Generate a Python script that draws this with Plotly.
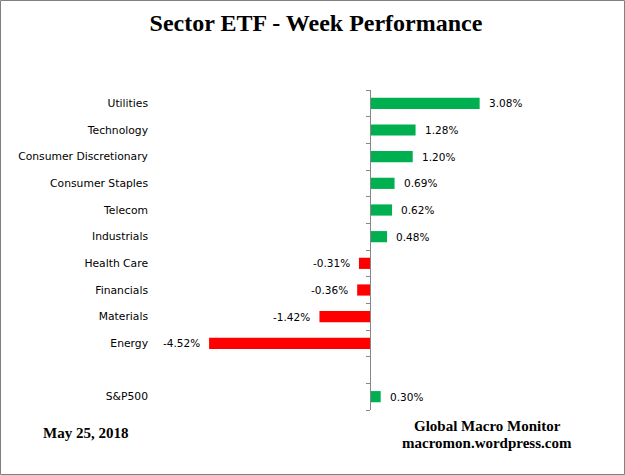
import plotly.graph_objects as go

categories = ["Utilities", "Technology", "Consumer Discretionary", "Consumer Staples",
              "Telecom", "Industrials", "Health Care", "Financials", "Materials",
              "Energy", " ", "S&P500"]
values = [3.08, 1.28, 1.20, 0.69, 0.62, 0.48, -0.31, -0.36, -1.42, -4.52, None, 0.30]
labels = ["3.08%", "1.28%", "1.20%", "0.69%", "0.62%", "0.48%", "-0.31%", "-0.36%",
          "-1.42%", "-4.52%", "", "0.30%"]

W, H = 625, 475
ML, MR, MT, MB = 152, 25, 90, 65
PW, PH = W - ML - MR, H - MT - MB
ZERO_PX = 370
SCALE = 35.6
xmin = (ML - ZERO_PX) / SCALE
xmax = (W - MR - ZERO_PX) / SCALE

GREEN, RED = "#00B050", "#FF0000"
colors = [GREEN if (v is not None and v >= 0) else RED for v in values]

def px_x(px):
    return (px - ML) / PW

def px_y(py):
    return (H - MB - py) / PH

fig = go.Figure()
fig.add_trace(go.Bar(
    x=values, y=categories, orientation="h",
    marker=dict(color=colors, line=dict(width=0)),
    width=0.42, hoverinfo="skip", showlegend=False,
))
fig.add_trace(go.Scatter(x=[], y=[], yaxis="y2", showlegend=False, hoverinfo="skip"))

label_font = dict(family="DejaVu Sans", size=10.5, color="#000000")
cat_font = dict(family="DejaVu Sans", size=10.75, color="#000000")
annotations = []
for c, v, t in zip(categories, values, labels):
    if v is None:
        continue
    annotations.append(dict(
        x=v, y=c, xref="x", yref="y", text=t, showarrow=False,
        xanchor="left" if v >= 0 else "right",
        xshift=7 if v >= 0 else -7, font=label_font,
    ))

serif_b = "Liberation Serif"
annotations += [
    dict(xref="paper", yref="paper", x=px_x(85), y=px_y(433), text="<b>May 25, 2018</b>",
         showarrow=False, xanchor="center", yanchor="middle",
         font=dict(family=serif_b, size=15, color="#000")),
    dict(xref="paper", yref="paper", x=px_x(487), y=px_y(426), text="<b>Global Macro Monitor</b>",
         showarrow=False, xanchor="center", yanchor="middle",
         font=dict(family=serif_b, size=15, color="#000")),
    dict(xref="paper", yref="paper", x=px_x(487), y=px_y(443), text="<b>macromon.wordpress.com</b>",
         showarrow=False, xanchor="center", yanchor="middle",
         font=dict(family=serif_b, size=15, color="#000")),
]

n = len(categories)
fig.update_layout(
    width=W, height=H,
    margin=dict(l=ML, r=MR, t=MT, b=MB),
    paper_bgcolor="white", plot_bgcolor="white",
    title=dict(text="<b>Sector ETF - Week Performance</b>", x=px_x(316), xref="paper",
               xanchor="center", y=1 - 23 / H, yanchor="middle",
               font=dict(family=serif_b, size=24, color="#000")),
    xaxis=dict(range=[xmin, xmax], visible=False, fixedrange=True),
    yaxis=dict(type="category", categoryorder="array", categoryarray=categories,
               range=[n - 0.5, -0.5], showgrid=False, zeroline=False, showline=False,
               ticks="", tickfont=cat_font, ticklabelstandoff=3, fixedrange=True),
    yaxis2=dict(overlaying="y", anchor="free", side="left",
                position=(0 - xmin) / (xmax - xmin),
                range=[n - 0.5, -0.5], tickmode="array",
                tickvals=[i - 0.5 for i in range(n + 1)],
                ticks="outside", ticklen=4, tickcolor="#868686", tickwidth=1,
                showticklabels=False, showline=True, linecolor="#868686", linewidth=1,
                showgrid=False, zeroline=False, fixedrange=True),
    annotations=annotations,
    shapes=[dict(type="rect", xref="paper", yref="paper",
                 x0=px_x(0.5), x1=px_x(W - 0.5), y0=px_y(H - 0.5), y1=px_y(0.5),
                 line=dict(color="#808080", width=1), fillcolor="rgba(0,0,0,0)")],
)

fig.write_html("out.html", config={"displayModeBar": False},
               post_script="document.body.style.margin='0';document.body.style.overflow='hidden';")
